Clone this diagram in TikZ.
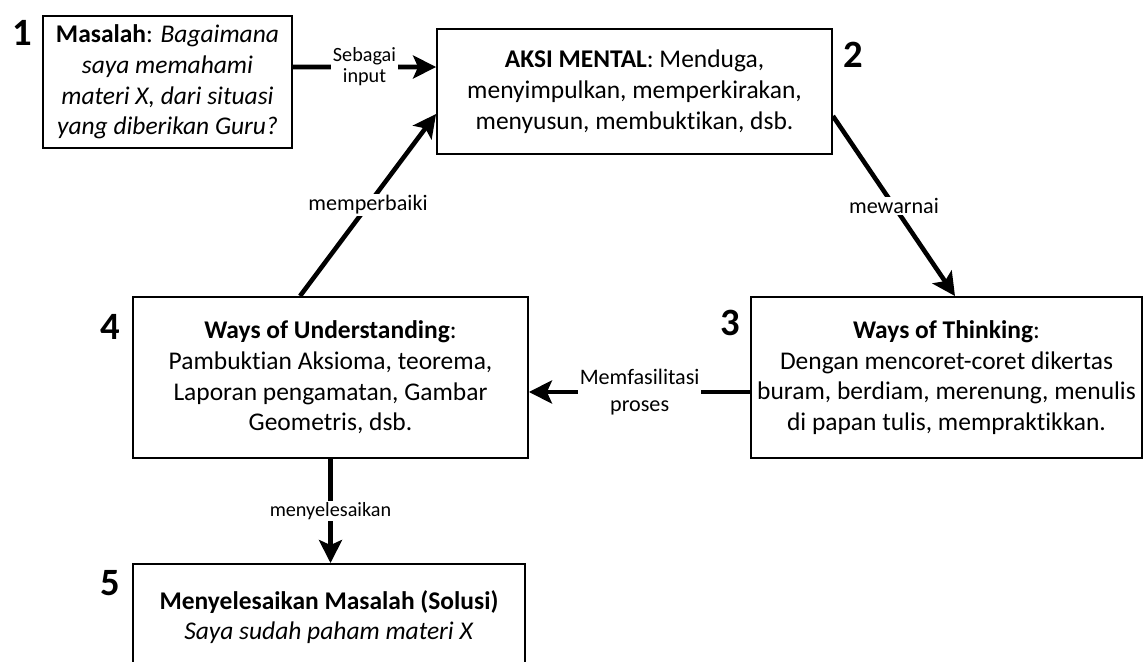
\documentclass[tikz,border=0pt]{standalone}
\usepackage{fontspec}
\setmainfont{Carlito}[Ligatures=NoCommon]
\usetikzlibrary{arrows.meta, positioning}

\begin{document}
\begin{tikzpicture}[
    x=0.02cm, y=-0.02cm,
    main node/.style={draw, line width=1.1pt, align=center, font=\fontsize{14.5}{17.5}\selectfont},
    num node/.style={font=\fontsize{22}{24}\selectfont\bfseries},
    arrow/.style={-{Stealth[length=4.6mm, width=4.6mm, inset=1mm]}, line width=2.6pt},
    label node/.style={fill=white, align=center, inner sep=1pt, font=\fontsize{12.6}{15.3}\selectfont},
    small label/.style={label node, font=\fontsize{11.5}{12}\selectfont}
]
\useasboundingbox (0,0) rectangle (1143,662);
\clip (0,0) rectangle (1143,662);

% Main Nodes
\node[main node, minimum width=4.98cm, minimum height=2.64cm] (masalah) at (167.5,82)
    {\textbf{Masalah}: \textit{Bagaimana}\\\textit{saya memahami}\\\textit{materi X, dari situasi}\\\textit{yang diberikan Guru?}};
\node[main node, minimum width=7.9cm, minimum height=2.5cm] (aksi) at (634.5,91.5)
    {\textbf{AKSI MENTAL}: Menduga,\\menyimpulkan, memperkirakan,\\menyusun, membuktikan, dsb.};
\node[main node, minimum width=7.78cm, minimum height=3.22cm] (thinking) at (946.5,377.5)
    {\textbf{Ways of Thinking}:\\Dengan mencoret-coret dikertas\\buram, berdiam, merenung, menulis\\di papan tulis, mempraktikkan.};
\node[main node, minimum width=7.9cm, minimum height=3.22cm] (understanding) at (330.5,377.5)
    {\textbf{Ways of Understanding}:\\Pambuktian Aksioma, teorema,\\Laporan pengamatan, Gambar\\Geometris, dsb.};
\node[main node, minimum width=7.84cm, minimum height=2.12cm] (solusi) at (329,617)
    {\textbf{Menyelesaikan Masalah (Solusi)}\\\textit{Saya sudah paham materi X}};

% Numbers
\node[num node] (n1) at (22,33) {1};
\node[num node] (n2) at (853,55) {2};
\node[num node] (n3) at (730,323) {3};
\node[num node] (n4) at (110,327) {4};
\node[num node] (n5) at (110,583) {5};

% Arrows
\draw[arrow] ([yshift=0.3cm]masalah.east) -- node[small label] {Sebagai\\input} ([yshift=0.49cm]aksi.west);
\draw[arrow] ([xshift=-0.61cm]understanding.north) -- node[label node] {memperbaiki} ([yshift=-0.45cm]aksi.west);
\draw[arrow] ([yshift=-0.49cm]aksi.east) -- node[label node] {mewarnai} ([xshift=0.17cm]thinking.north);
\draw[arrow] ([yshift=-0.29cm]thinking.west) -- node[label node] {Memfasilitasi\\proses} ([yshift=-0.29cm]understanding.east);
\draw[arrow] (understanding.south) -- node[small label] {menyelesaikan} (understanding.south |- solusi.north);
\end{tikzpicture}
\end{document}
